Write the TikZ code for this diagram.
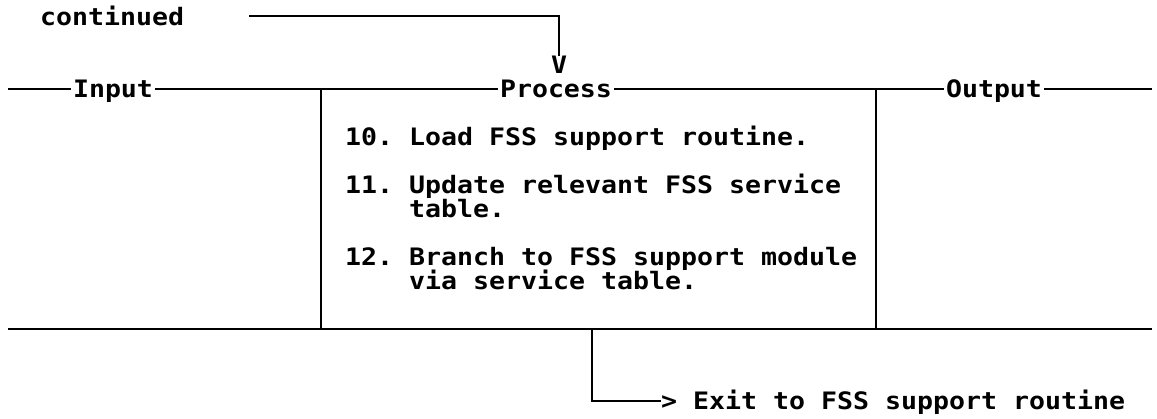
\documentclass[tikz,border=0pt]{standalone}
\usepackage{fontspec}
\newfontfamily\ibmfont[FakeStretch=1.107]{DejaVu Sans Mono}
\begin{document}
\begin{tikzpicture}[x=1pt,y=-1pt,
  rule/.style={line width=2.8pt},
  lbl/.style={font=\ibmfont\bfseries\fontsize{24}{24}\selectfont\frenchspacing, inner sep=0pt},
  onrule/.style={lbl, text height=17.5pt, text depth=0pt, inner xsep=2pt},
]
\useasboundingbox (0,0) rectangle (1157,419);

% incoming connector from the previous page
\node[lbl, anchor=base west] (cont) at (40,26) {continued};
\coordinate (cstart) at (249,16);
\node[lbl, anchor=base] (vtip) at (559,74) {V};
\draw[rule] (cstart) -| (vtip.north);

% table header rule with column titles
\coordinate (l0) at (8,89);
\coordinate (l1) at (1152,89);
\node[onrule] (in)  at (113,89) {Input};
\node[onrule] (pr)  at (556,89) {Process};
\node[onrule] (out) at (994,89) {Output};
\draw[rule] (l0) -- (in) -- (pr) -- (out) -- (l1);

% bottom rule and column separators
\coordinate (m0) at (8,329);
\coordinate (m1) at (1152,329);
\draw[rule] (m0) -- (m1);
\coordinate (c1t) at (321,89);
\coordinate (c1b) at (321,329);
\coordinate (c2t) at (876,89);
\coordinate (c2b) at (876,329);
\draw[rule] (c1t) -- (c1b);
\draw[rule] (c2t) -- (c2b);

% process steps
\node[lbl, anchor=base west] (s10)  at (345,146) {10. Load FSS support routine.};
\node[lbl, anchor=base west] (s11)  at (345,194) {11. Update relevant FSS service};
\node[lbl, anchor=base west] (s11b) at (345,218) {\phantom{11. }table.};
\node[lbl, anchor=base west] (s12)  at (345,266) {12. Branch to FSS support module};
\node[lbl, anchor=base west] (s12b) at (345,290) {\phantom{12. }via service table.};

% exit connector
\coordinate (ex0) at (592,329);
\node[lbl, anchor=west, text height=18pt, text depth=0pt] (exitlbl) at (661,401) {> Exit to FSS support routine};
\draw[rule] (ex0) |- (exitlbl.west);
\end{tikzpicture}
\end{document}
